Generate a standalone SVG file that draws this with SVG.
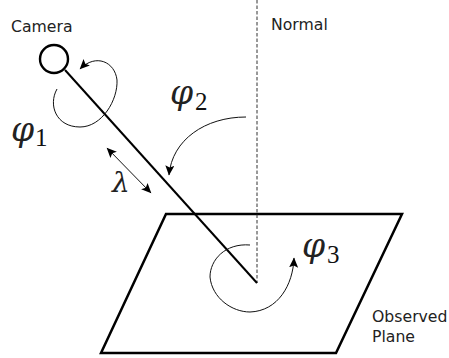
<svg xmlns="http://www.w3.org/2000/svg" width="449" height="358" viewBox="0 0 449 358">
<style>
.lbl{font-family:"DejaVu Sans",sans-serif;font-size:15.7px;fill:#222}
.sym{font-family:"DejaVu Serif",serif;font-style:italic;font-size:33px;fill:#222}
.sub{font-family:"Liberation Serif","DejaVu Serif",serif;font-size:25px;fill:#111}
.thick{fill:none;stroke:#000;stroke-width:2}
.thin{fill:none;stroke:#111;stroke-width:1}
</style>
<defs>
<marker id="a" markerUnits="userSpaceOnUse" markerWidth="11" markerHeight="10" refX="9.5" refY="4.5" orient="auto-start-reverse"><path d="M0 0L10 4.5L0 9L2 4.5Z" fill="#000"/></marker>
</defs>
<g id="plane"><path class="thick" style="stroke-width:2.5" d="M166 214H402L336 353H101Z"/></g>
<g id="camera"><circle cx="54" cy="59" r="14" fill="#fff" stroke="#000" stroke-width="2.4"/></g>
<g id="connectors">
<path d="M257 0V283" fill="none" stroke="#333" stroke-width="1" stroke-dasharray="3.5 2"/>
<path class="thick" d="M65 70L257 283"/>
<path class="thin" marker-end="url(#a)" d="M57 89C48 105 56 127 80 127C102 127 118 100 117 80C115 62 96 53 80 69"/>
<path class="thin" marker-end="url(#a)" d="M246 117C205 117 172 140 169 175"/>
<path class="thin" marker-end="url(#a)" d="M250 245C225 243 210 260 210 277C212 298 232 312 250 312C278 311 293 285 294 258"/>
<path class="thin" marker-start="url(#a)" marker-end="url(#a)" d="M107 148L151 193"/>
</g>
<g id="labels">
<text class="lbl" x="11" y="32">Camera</text>
<text class="lbl" x="271" y="30">Normal</text>
<text class="lbl" x="372" y="322">Observed</text>
<text class="lbl" x="372" y="342">Plane</text>
<text class="sym" x="11" y="141">φ</text><text class="sub" x="35" y="146">1</text>
<text class="sym" x="170" y="104">φ</text><text class="sub" x="195" y="110">2</text>
<text class="sym" x="302" y="257">φ</text><text class="sub" x="327" y="263">3</text>
<text class="sym" x="112" y="192" style="font-size:28px">λ</text>
</g>
</svg>
